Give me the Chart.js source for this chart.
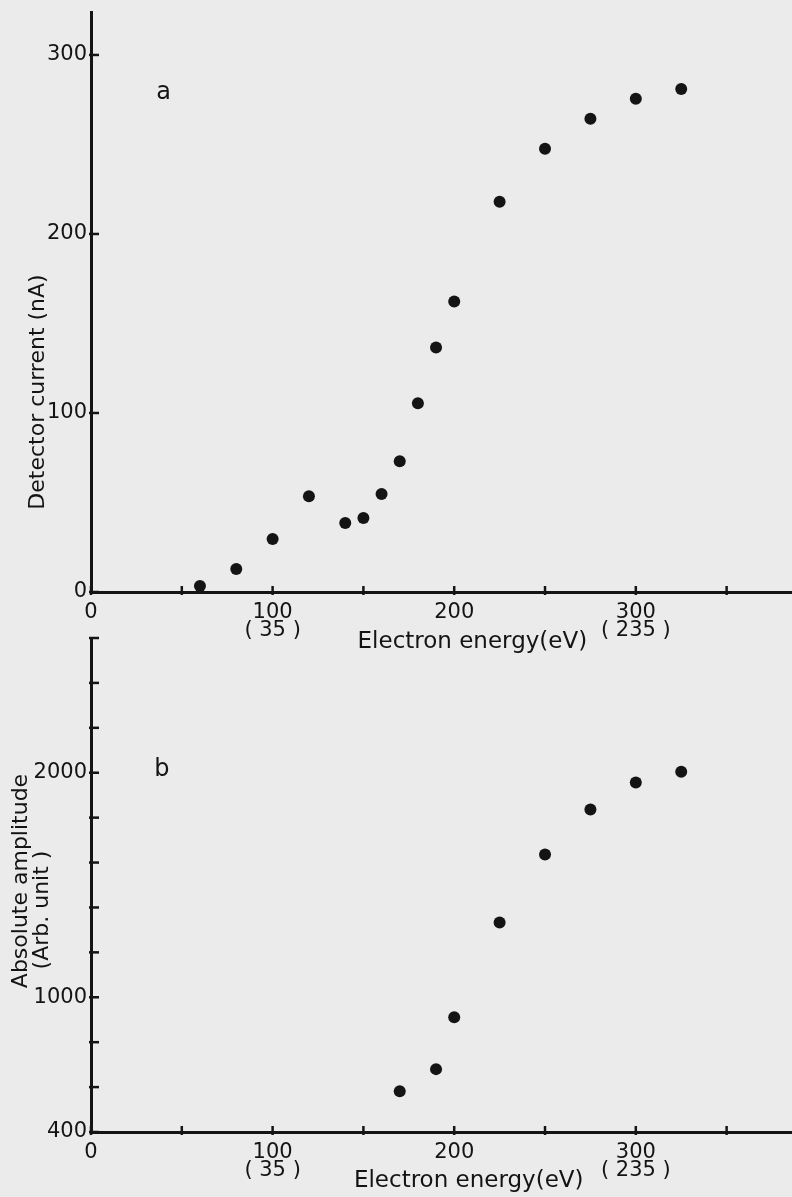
<!DOCTYPE html>
<html>
<head>
<meta charset="utf-8">
<script src="https://cdn.jsdelivr.net/npm/chart.js@4"></script>
<style>
  body { margin: 0; background: #ebebeb; }
  #wrap { position: relative; width: 792px; height: 1197px; overflow: hidden; }
  canvas { position: absolute; left: 0; }
</style>
</head>
<body>
<div id="wrap">
  <canvas id="chart_a" width="798" height="660" style="top:0"></canvas>
  <canvas id="chart_b" width="798" height="577" style="top:620px"></canvas>
</div>
<script>
// (a) detector current vs electron energy
var energyA = [60, 80, 100, 120, 140, 150, 160, 170, 180, 190, 200, 225, 250, 275, 300, 325];
var currentA = [3.3, 12.8, 29.6, 53.5, 38.5, 41.3, 54.7, 73, 105.4, 136.6, 162.3, 218, 247.6, 264.4, 275.5, 281];

// (b) absolute amplitude vs electron energy
var energyB = [170, 190, 200, 225, 250, 275, 300, 325];
var amplitudeB = [582, 680, 911, 1333, 1636, 1836, 1956, 2004];

// labelled ticks, everything else is a bare tick mark
var xTickLabels = { 0: '0', 100: ['100', '( 35 )'], 200: '200', 300: ['300', '( 235 )'] };
var yTickLabelsA = [0, 100, 200, 300];
var yTickLabelsB = [400, 1000, 2000];

var INK = '#141414';
var FONT = '"DejaVu Sans", Arial, sans-serif';

function toPoints(xs, ys) {
  return xs.map(function (x, i) { return { x: x, y: ys[i] }; });
}

// inward tick marks, panel letter and axis titles
var decor = {
  id: 'decor',
  afterDraw: function (chart, args, o) {
    var ctx = chart.ctx, area = chart.chartArea;
    var xs = chart.scales.x, ys = chart.scales.y;
    ctx.save();
    ctx.strokeStyle = INK;
    ctx.lineWidth = 2.5;
    xs.ticks.forEach(function (t) {
      if (t.value % o.xStep) return;
      var px = xs.getPixelForValue(t.value);
      ctx.beginPath();
      ctx.moveTo(px, area.bottom + 3);
      ctx.lineTo(px, area.bottom - 6);
      ctx.stroke();
    });
    ys.ticks.forEach(function (t) {
      if (t.value % o.yStep) return;
      var py = ys.getPixelForValue(t.value);
      ctx.beginPath();
      ctx.moveTo(area.left - 2, py);
      ctx.lineTo(area.left + 8, py);
      ctx.stroke();
    });

    ctx.fillStyle = INK;
    ctx.font = '24px ' + FONT;
    ctx.textAlign = 'center';
    ctx.textBaseline = 'middle';
    ctx.fillText(o.letter, xs.getPixelForValue(o.letterAt[0]), ys.getPixelForValue(o.letterAt[1]));

    ctx.font = '23px ' + FONT;
    ctx.textBaseline = 'alphabetic';
    ctx.fillText('Electron energy(eV)', xs.getPixelForValue(o.xTitleAt), area.bottom + o.xTitleGap);

    ctx.font = '22px ' + FONT;
    o.yTitle.forEach(function (line) {
      ctx.save();
      ctx.translate(line.x, line.y);
      ctx.rotate(-Math.PI / 2);
      ctx.textBaseline = 'middle';
      ctx.fillText(line.text, 0, 0);
      ctx.restore();
    });
    ctx.restore();
  }
};

function makeChart(id, xs, ys, yMin, yMax, yStep, yLabels, xAxisHeight, topPad, decorOpts) {
  return new Chart(id, {
    type: 'scatter',
    data: {
      datasets: [{
        data: toPoints(xs, ys),
        backgroundColor: INK,
        borderWidth: 0,
        pointRadius: 6,
        pointHoverRadius: 6
      }]
    },
    options: {
      responsive: false,
      animation: false,
      events: [],
      layout: { padding: { top: topPad, left: 0, right: 0, bottom: 0 } },
      plugins: { legend: { display: false }, tooltip: { enabled: false }, decor: decorOpts },
      scales: {
        x: {
          type: 'linear',
          min: 0,
          max: 386,
          grid: { display: false, drawTicks: false },
          border: { display: true, color: INK, width: 3 },
          ticks: {
            stepSize: 50,
            autoSkip: false,
            maxRotation: 0,
            padding: 12,
            color: INK,
            font: { family: FONT, size: 21, lineHeight: 0.85 },
            callback: function (v) { return xTickLabels[v] !== undefined ? xTickLabels[v] : ''; }
          },
          afterFit: function (s) { s.height = xAxisHeight; s.paddingLeft = 0; s.paddingRight = 0; }
        },
        y: {
          type: 'linear',
          min: yMin,
          max: yMax,
          grid: { display: false, drawTicks: false },
          border: { display: true, color: INK, width: 3 },
          ticks: {
            stepSize: yStep,
            autoSkip: false,
            padding: 4,
            color: INK,
            font: { family: FONT, size: 21 },
            callback: function (v) { return yLabels.indexOf(v) >= 0 ? String(v) : ''; }
          },
          afterFit: function (s) { s.width = 91; s.paddingTop = 0; s.paddingBottom = 0; }
        }
      }
    },
    plugins: [decor]
  });
}

makeChart('chart_a', energyA, currentA, 0, 324, 100, yTickLabelsA, 68, 12, {
  xStep: 50, yStep: 100,
  letter: 'a', letterAt: [40, 279],
  xTitleAt: 210, xTitleGap: 56,
  yTitle: [{ text: 'Detector current (nA)', x: 38, y: 392 }]
});

makeChart('chart_b', energyB, amplitudeB, 400, 2600, 200, yTickLabelsB, 65, 18, {
  xStep: 50, yStep: 200,
  letter: 'b', letterAt: [39, 2012],
  xTitleAt: 208, xTitleGap: 55,
  yTitle: [
    { text: 'Absolute amplitude', x: 21, y: 261 },
    { text: '(Arb. unit )', x: 42, y: 290 }
  ]
});
</script>
</body>
</html>
